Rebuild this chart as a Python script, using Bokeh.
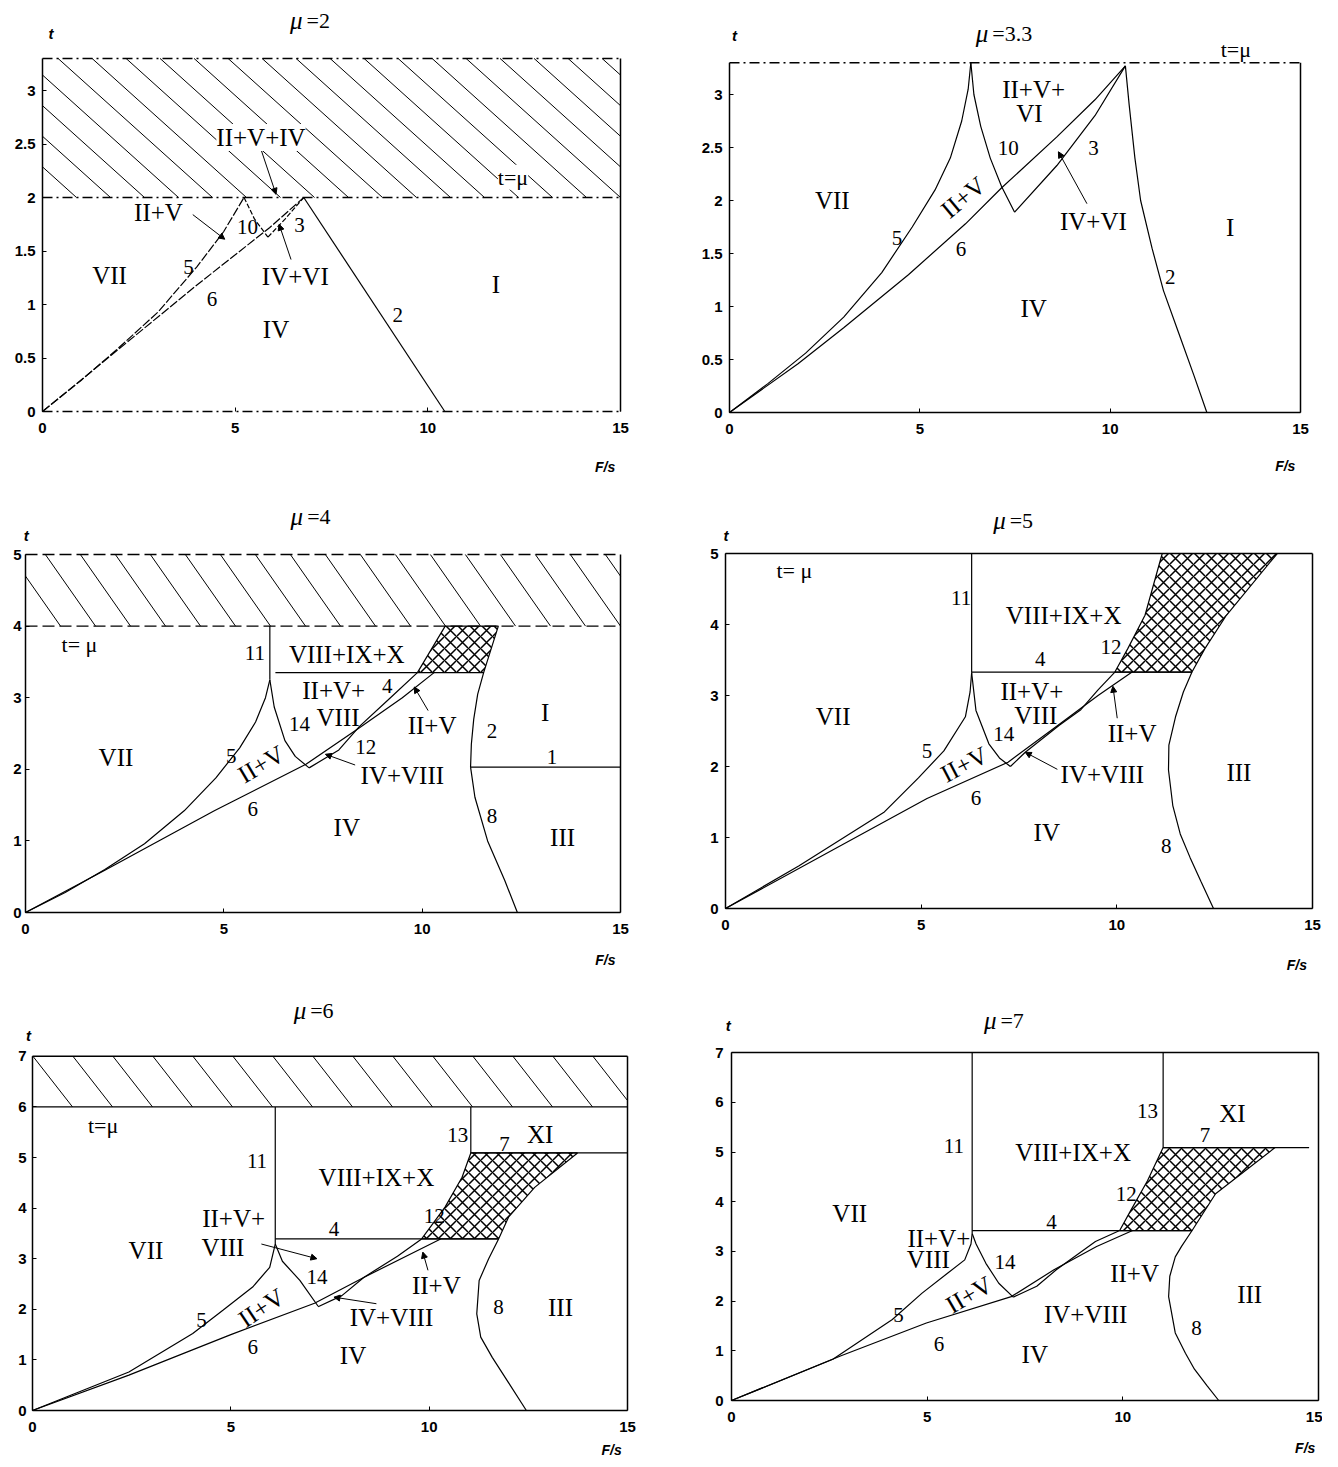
import math
from bokeh.plotting import figure
from bokeh.models import Range1d, Label, Arrow, NormalHead, FixedTicker, NumeralTickFormatter
from bokeh.layouts import row, column
from bokeh.embed import file_html
from bokeh.resources import INLINE

# ---------------- data ----------------
F_RANGE = (0, 15)
F_TICKS = [0, 5, 10, 15]
MU = [2, 3.3, 4, 5, 6, 7]
T_TOP = [3.3, 3.3, 5, 5, 7, 7]
T_TICKS_A = [0, 0.5, 1, 1.5, 2, 2.5, 3]
T_TICKS_B = [0, 1, 2, 3, 4, 5]
T_TICKS_C = [0, 1, 2, 3, 4, 5, 6, 7]
MU_TEXT = ["=2", "=3.3", "=4", "=5", "=6", "=7"]

# mu = 2
m2_c5_F = [0, 1.0, 1.9, 3.0, 4.0, 4.7, 5.23]
m2_c5_t = [0, 0.29, 0.57, 0.93, 1.35, 1.68, 2.0]
m2_c6_F = [0, 1.9, 4.0, 5.9, 6.78]
m2_c6_t = [0, 0.56, 1.18, 1.72, 2.0]
m2_c10_F = [5.23, 5.5, 5.85]
m2_c10_t = [2.0, 1.8, 1.63]
m2_c3_F = [5.85, 6.3, 6.78]
m2_c3_t = [1.63, 1.8, 2.0]
m2_c2_F = [6.78, 10.44]
m2_c2_t = [2.0, 0.0]

# mu = 3.3
m33_c5_F = [0, 1, 2, 3, 4, 4.8, 5.4, 5.8, 6.1, 6.27, 6.34]
m33_c5_t = [0, 0.27, 0.56, 0.9, 1.32, 1.75, 2.1, 2.4, 2.75, 3.05, 3.3]
m33_c10_F = [6.34, 6.42, 6.6, 6.85, 7.15, 7.49]
m33_c10_t = [3.3, 3.0, 2.7, 2.4, 2.13, 1.89]
m33_c6_F = [0, 1.8, 3.0, 4.7, 6.2, 7.15, 8.6, 9.6, 10.4]
m33_c6_t = [0, 0.46, 0.8, 1.3, 1.78, 2.12, 2.6, 2.95, 3.27]
m33_c3_F = [7.49, 8.6, 9.6, 10.4]
m33_c3_t = [1.89, 2.33, 2.8, 3.27]
m33_c2_F = [10.4, 10.5, 10.65, 10.8, 11.1, 11.4, 11.8, 12.2, 12.54]
m33_c2_t = [3.27, 2.9, 2.4, 2.0, 1.55, 1.15, 0.75, 0.35, 0.0]

# mu = 4
m4_c5_F = [0, 1, 2, 3, 4, 4.8, 5.4, 5.8, 6.05, 6.16]
m4_c5_t = [0, 0.28, 0.6, 0.96, 1.42, 1.88, 2.3, 2.66, 3.0, 3.25]
m4_c14_F = [6.16, 6.27, 6.54, 6.8, 7.15]
m4_c14_t = [3.25, 2.87, 2.4, 2.18, 2.02]
m4_c6_F = [0, 2, 4.76, 7.07, 8.42, 9.5, 10.3]
m4_c6_t = [0, 0.59, 1.42, 2.07, 2.58, 3.0, 3.35]
m4_c12_F = [7.15, 7.9, 8.42, 9.2, 9.88]
m4_c12_t = [2.02, 2.27, 2.6, 3.0, 3.35]
m4_c11_F = [6.16, 6.16]
m4_c11_t = [4.0, 3.25]
m4_c4_F = [6.3, 9.88]
m4_c4_t = [3.35, 3.35]
m4_x_F = [9.88, 10.58, 11.92, 11.55]
m4_x_t = [3.35, 4.0, 4.0, 3.35]
m4_c2_F = [11.55, 11.4, 11.3, 11.24, 11.22]
m4_c2_t = [3.35, 3.05, 2.7, 2.35, 2.03]
m4_c8_F = [11.22, 11.33, 11.65, 12.08, 12.4]
m4_c8_t = [2.03, 1.61, 1.0, 0.45, 0.0]
m4_c1_F = [11.22, 15]
m4_c1_t = [2.03, 2.03]

# mu = 5
m5_c5_F = [0, 1.87, 4.06, 4.93, 5.58, 6.13, 6.25, 6.29]
m5_c5_t = [0, 0.6, 1.36, 1.84, 2.22, 2.7, 3.05, 3.32]
m5_c14_F = [6.29, 6.4, 6.73, 7.0, 7.28]
m5_c14_t = [3.32, 2.79, 2.32, 2.12, 2.0]
m5_c6_F = [0, 2.96, 5.15, 7.22, 8.42, 9.52, 10.39]
m5_c6_t = [0, 0.89, 1.55, 2.06, 2.55, 3.0, 3.33]
m5_c12_F = [7.28, 7.66, 8.53, 9.08, 9.52, 9.95]
m5_c12_t = [2.0, 2.2, 2.58, 2.8, 3.08, 3.33]
m5_c11_F = [6.29, 6.29]
m5_c11_t = [5.0, 3.32]
m5_c4_F = [6.29, 11.92]
m5_c4_t = [3.33, 3.33]
m5_x_F = [9.95, 10.28, 10.72, 11.16, 14.1, 12.8, 12.25, 11.92]
m5_x_t = [3.33, 3.66, 4.13, 5.0, 5.0, 4.13, 3.66, 3.33]
m5_c8_F = [11.92, 11.7, 11.5, 11.33, 11.32, 11.43, 11.62, 11.87, 12.15, 12.47]
m5_c8_t = [3.33, 3.05, 2.7, 2.3, 1.95, 1.45, 1.05, 0.72, 0.38, 0.0]

# mu = 6
m6_c5_F = [0, 2.43, 4.04, 4.8, 5.55, 5.98, 6.12]
m6_c5_t = [0, 0.76, 1.52, 1.98, 2.44, 2.83, 3.29]
m6_c14_F = [6.12, 6.3, 6.74, 7.2]
m6_c14_t = [3.29, 2.95, 2.57, 2.06]
m6_c6_F = [0, 2.43, 5.0, 7.11, 8.35, 10.29]
m6_c6_t = [0, 0.7, 1.5, 2.12, 2.63, 3.39]
m6_c12_F = [7.2, 7.8, 8.35, 9.2, 9.81]
m6_c12_t = [2.05, 2.27, 2.63, 3.05, 3.39]
m6_c11_F = [6.12, 6.12]
m6_c11_t = [6.0, 3.29]
m6_c13_F = [11.05, 11.05]
m6_c13_t = [6.0, 5.09]
m6_c7_F = [11.05, 15]
m6_c7_t = [5.09, 5.09]
m6_c4_F = [6.12, 11.75]
m6_c4_t = [3.39, 3.39]
m6_x_F = [9.81, 10.4, 10.83, 11.05, 13.74, 12.66, 12.0, 11.75]
m6_x_t = [3.39, 4.02, 4.61, 5.09, 5.09, 4.41, 3.82, 3.39]
m6_c8_F = [11.75, 11.5, 11.26, 11.2, 11.3, 11.59, 12.0, 12.45]
m6_c8_t = [3.39, 3.0, 2.57, 1.91, 1.45, 1.05, 0.55, 0.0]

# mu = 7
m7_c5_F = [0, 2.59, 4.11, 4.87, 5.52, 5.96, 6.12, 6.15]
m7_c5_t = [0, 0.83, 1.63, 2.16, 2.56, 2.83, 3.15, 3.36]
m7_c14_F = [6.15, 6.25, 6.5, 6.83, 7.2]
m7_c14_t = [3.36, 3.15, 2.76, 2.36, 2.08]
m7_c6_F = [0, 2.8, 4.98, 7.15, 8.24, 9.33, 10.25]
m7_c6_t = [0, 0.9, 1.56, 2.09, 2.63, 3.1, 3.42]
m7_c12_F = [7.2, 7.8, 8.3, 9.3, 9.92]
m7_c12_t = [2.08, 2.3, 2.63, 3.2, 3.42]
m7_c11_F = [6.15, 6.15]
m7_c11_t = [7.0, 3.36]
m7_c13_F = [11.03, 11.03]
m7_c13_t = [7.0, 5.09]
m7_c7_F = [11.03, 14.76]
m7_c7_t = [5.09, 5.09]
m7_c4_F = [6.15, 11.77]
m7_c4_t = [3.42, 3.42]
m7_x_F = [9.92, 10.2, 10.63, 11.03, 13.89, 12.37, 11.77]
m7_x_t = [3.42, 3.82, 4.42, 5.09, 5.09, 4.16, 3.42]
m7_c8_F = [11.77, 11.5, 11.34, 11.2, 11.17, 11.34, 11.6, 11.83, 12.15, 12.45]
m7_c8_t = [3.42, 3.1, 2.89, 2.5, 2.09, 1.36, 0.95, 0.63, 0.3, 0.0]

# ---------------- layout / styling ----------------
DASHDOT = "10 4 2 4"
S = "solid"
specs = [
    dict(i=0, fig=(0, 0, 665, 480), cal=(42, 620, 411, 107), yticks=T_TICKS_A, ys=7,
         band=(34, 42), mu_dash=DASHDOT, frame_dash=(S, S, DASHDOT, DASHDOT),
         curves=[(m2_c5_F, m2_c5_t, "9 2"), (m2_c6_F, m2_c6_t, "9 2"), (m2_c10_F, m2_c10_t, "5 2"),
                 (m2_c3_F, m2_c3_t, "5 2"), (m2_c2_F, m2_c2_t, S)],
         cross=None,
         labels=[("VII", 1.74, 1.27, 0), ("5", 3.79, 1.35, 0), ("6", 4.4, 1.05, 0), ("IV", 6.06, 0.77, 0),
                 ("2", 9.22, 0.9, 0), ("I", 11.77, 1.19, 0), ("3", 6.67, 1.74, 0), ("10", 5.32, 1.72, 0),
                 ("II+V", 3.01, 1.86, 0), ("II+V+IV", 5.67, 2.56, 0), ("IV+VI", 6.56, 1.26, 0),
                 ("t=μ", 12.21, 2.19, 0)],
         white_bg=["II+V+IV", "t=μ"],
         arrows=[(3.9, 1.84, 4.73, 1.61), (5.67, 2.45, 6.06, 2.03), (6.45, 1.42, 6.14, 1.75)],
         title=(6.75, 3.65), tlab=(0.22, 3.53), fs=(14.6, -0.52)),
    dict(i=1, fig=(665, 0, 657, 480), cal=(729, 1300, 412, 106), yticks=T_TICKS_A, ys=7,
         band=None, mu_dash=None, frame_dash=(S, S, S, DASHDOT),
         curves=[(m33_c5_F, m33_c5_t, S), (m33_c6_F, m33_c6_t, S), (m33_c10_F, m33_c10_t, S),
                 (m33_c3_F, m33_c3_t, S), (m33_c2_F, m33_c2_t, S)],
         cross=None,
         labels=[("II+V+", 7.99, 3.05, 0), ("VI", 7.88, 2.82, 0), ("10", 7.32, 2.5, 0), ("3", 9.56, 2.5, 0),
                 ("VII", 2.7, 2.0, 0), ("II+V", 6.14, 2.03, 0.69), ("5", 4.4, 1.65, 0), ("6", 6.08, 1.54, 0),
                 ("IV+VI", 9.56, 1.8, 0), ("I", 13.15, 1.75, 0), ("2", 11.58, 1.28, 0), ("IV", 7.99, 0.98, 0),
                 ("t=μ", 13.3, 3.42, 0)],
         white_bg=[],
         arrows=[(9.39, 1.97, 8.64, 2.46)],
         title=(6.8, 3.58), tlab=(0.13, 3.56), fs=(14.6, -0.5)),
    dict(i=2, fig=(0, 480, 665, 500), cal=(25, 620, 912, 71.6), yticks=T_TICKS_B, ys=4,
         band=(35, 55), mu_dash="12 5", frame_dash=(S, S, S, "12 5"),
         curves=[(m4_c5_F, m4_c5_t, S), (m4_c14_F, m4_c14_t, S), (m4_c6_F, m4_c6_t, S),
                 (m4_c12_F, m4_c12_t, S), (m4_c11_F, m4_c11_t, S), (m4_c4_F, m4_c4_t, S),
                 (m4_c2_F, m4_c2_t, S), (m4_c8_F, m4_c8_t, S), (m4_c1_F, m4_c1_t, S)],
         cross=(m4_x_F, m4_x_t),
         labels=[("t= μ", 1.36, 3.75, 0), ("11", 5.78, 3.62, 0), ("VIII+IX+X", 8.1, 3.61, 0),
                 ("II+V+", 7.77, 3.1, 0), ("4", 9.12, 3.17, 0), ("14", 6.91, 2.63, 0), ("VIII", 7.88, 2.73, 0),
                 ("5", 5.19, 2.19, 0), ("II+V", 5.94, 2.07, 0.54), ("12", 8.58, 2.31, 0), ("II+V", 10.25, 2.61, 0),
                 ("IV+VIII", 9.5, 1.91, 0), ("VII", 2.28, 2.17, 0), ("6", 5.73, 1.45, 0), ("IV", 8.1, 1.19, 0),
                 ("2", 11.76, 2.54, 0), ("I", 13.1, 2.8, 0), ("1", 13.27, 2.17, 0), ("8", 11.76, 1.35, 0),
                 ("III", 13.54, 1.05, 0)],
         white_bg=[],
         arrows=[(8.31, 2.06, 7.56, 2.21), (10.15, 2.82, 9.8, 3.15)],
         title=(7.0, 5.53), tlab=(0.02, 5.27), fs=(14.62, -0.67)),
    dict(i=3, fig=(665, 480, 657, 500), cal=(725, 1312, 908, 71), yticks=T_TICKS_B, ys=7,
         band=None, mu_dash=None, frame_dash=(S, S, S, S),
         curves=[(m5_c5_F, m5_c5_t, S), (m5_c14_F, m5_c14_t, S), (m5_c6_F, m5_c6_t, S),
                 (m5_c12_F, m5_c12_t, S), (m5_c11_F, m5_c11_t, S), (m5_c4_F, m5_c4_t, S),
                 (m5_c8_F, m5_c8_t, S)],
         cross=(m5_x_F, m5_x_t),
         labels=[("t= μ", 1.76, 4.76, 0), ("11", 6.02, 4.37, 0), ("VIII+IX+X", 8.64, 4.13, 0),
                 ("12", 9.85, 3.68, 0), ("4", 8.04, 3.51, 0), ("II+V+", 7.83, 3.06, 0), ("VIII", 7.93, 2.72, 0),
                 ("14", 7.11, 2.46, 0), ("5", 5.15, 2.22, 0), ("II+V", 6.1, 2.03, 0.48), ("VII", 2.75, 2.7, 0),
                 ("II+V", 10.39, 2.46, 0), ("IV+VIII", 9.63, 1.89, 0), ("6", 6.4, 1.55, 0), ("IV", 8.21, 1.07, 0),
                 ("III", 13.12, 1.91, 0), ("8", 11.26, 0.88, 0)],
         white_bg=[],
         arrows=[(10.01, 2.68, 9.9, 3.13), (8.48, 1.96, 7.66, 2.2)],
         title=(7.16, 5.46), tlab=(0.01, 5.25), fs=(14.6, -0.8)),
    dict(i=4, fig=(0, 980, 665, 480), cal=(32, 627, 1410, 50.6), yticks=T_TICKS_C, ys=6,
         band=(40, 52), mu_dash=S, frame_dash=(S, S, S, S),
         curves=[(m6_c5_F, m6_c5_t, S), (m6_c14_F, m6_c14_t, S), (m6_c6_F, m6_c6_t, S),
                 (m6_c12_F, m6_c12_t, S), (m6_c11_F, m6_c11_t, S), (m6_c13_F, m6_c13_t, S),
                 (m6_c7_F, m6_c7_t, S), (m6_c4_F, m6_c4_t, S), (m6_c8_F, m6_c8_t, S)],
         cross=(m6_x_F, m6_x_t),
         labels=[("t=μ", 1.78, 5.63, 0), ("11", 5.66, 4.94, 0), ("VIII+IX+X", 8.67, 4.61, 0),
                 ("12", 10.13, 3.85, 0), ("4", 7.6, 3.59, 0), ("II+V+", 5.07, 3.79, 0), ("VIII", 4.8, 3.23, 0),
                 ("14", 7.17, 2.64, 0), ("VII", 2.86, 3.16, 0), ("5", 4.26, 1.78, 0), ("II+V", 5.77, 2.03, 0.59),
                 ("6", 5.55, 1.25, 0), ("IV", 8.08, 1.09, 0), ("IV+VIII", 9.05, 1.84, 0), ("II+V", 10.18, 2.47, 0),
                 ("8", 11.75, 2.04, 0), ("III", 13.31, 2.04, 0), ("13", 10.72, 5.45, 0), ("7", 11.9, 5.27, 0),
                 ("XI", 12.8, 5.45, 0)],
         white_bg=[],
         arrows=[(5.77, 3.29, 7.17, 3.0), (8.67, 2.11, 7.6, 2.24), (9.97, 2.77, 9.84, 3.13)],
         title=(6.9, 7.9), tlab=(-0.1, 7.41), fs=(14.6, -0.78)),
    dict(i=5, fig=(665, 980, 657, 480), cal=(731, 1318, 1400, 49.7), yticks=T_TICKS_C, ys=8,
         band=None, mu_dash=None, frame_dash=(S, S, S, S),
         curves=[(m7_c5_F, m7_c5_t, S), (m7_c14_F, m7_c14_t, S), (m7_c6_F, m7_c6_t, S),
                 (m7_c12_F, m7_c12_t, S), (m7_c11_F, m7_c11_t, S), (m7_c13_F, m7_c13_t, S),
                 (m7_c7_F, m7_c7_t, S), (m7_c4_F, m7_c4_t, S), (m7_c8_F, m7_c8_t, S)],
         cross=(m7_x_F, m7_x_t),
         labels=[("11", 5.68, 5.12, 0), ("VIII+IX+X", 8.73, 4.99, 0), ("12", 10.09, 4.16, 0), ("4", 8.18, 3.59, 0),
                 ("VII", 3.02, 3.76, 0), ("II+V+", 5.3, 3.26, 0), ("VIII", 5.03, 2.83, 0), ("14", 6.99, 2.79, 0),
                 ("II+V", 6.07, 2.13, 0.53), ("5", 4.27, 1.73, 0), ("6", 5.3, 1.13, 0), ("IV", 7.75, 0.93, 0),
                 ("IV+VIII", 9.05, 1.73, 0), ("II+V", 10.3, 2.56, 0), ("8", 11.88, 1.46, 0), ("III", 13.24, 2.13, 0),
                 ("XI", 12.8, 5.78, 0), ("13", 10.63, 5.82, 0), ("7", 12.1, 5.35, 0)],
         white_bg=[],
         arrows=[],
         title=(6.77, 7.65), tlab=(-0.08, 7.55), fs=(14.66, -0.95)),
]

SERIF = "Liberation Serif"
SANS = "Liberation Sans"


def add_text(p, text, x, y, size, font=SERIF, style="normal", align="center", angle=0.0, x_offset=0, bg=None):
    lab = Label(x=x, y=y, text=text, text_font=font, text_font_size=size, text_font_style=style,
                text_align=align, text_baseline="middle", angle=angle, x_offset=x_offset,
                text_color="black")
    if bg:
        lab.background_fill_color = bg
    p.add_layout(lab)


def clip_segment(xa, ya, xb, yb, lo, hi):
    if xb < lo or xa > hi:
        return None
    if xa < lo:
        ya = ya + (yb - ya) * (lo - xa) / (xb - xa)
        xa = lo
    if xb > hi:
        yb = ya + (yb - ya) * (hi - xa) / (xb - xa)
        xb = hi
    return [xa, xb], [ya, yb]


def band_hatch(mu, ttop, sx, sy, spacing_px, angle_deg):
    run = (ttop - mu) * sy / math.tan(math.radians(angle_deg)) / sx
    step = spacing_px / sx
    xs, ys = [], []
    x0 = F_RANGE[0] - run
    while x0 < F_RANGE[1]:
        seg = clip_segment(x0, ttop, x0 + run, mu, F_RANGE[0], F_RANGE[1])
        if seg:
            xs.append(seg[0])
            ys.append(seg[1])
        x0 += step
    return xs, ys


def build(s):
    i = s["i"]
    mu, ttop = MU[i], T_TOP[i]
    gl, gt, gw, gh = s["fig"]
    f0, f15, t0, tu = s["cal"]
    sx = (f15 - f0) / (F_RANGE[1] - F_RANGE[0])
    x_lo = (gl - f0) / sx
    x_hi = (gl + gw - f0) / sx
    y_hi = (t0 - gt) / tu
    y_lo = (t0 - (gt + gh)) / tu
    p = figure(width=gw, height=gh, x_range=Range1d(x_lo, x_hi), y_range=Range1d(y_lo, y_hi),
               output_backend="svg", toolbar_location=None,
               min_border_left=0, min_border_right=0, min_border_top=0, min_border_bottom=0)
    p.xgrid.visible = False
    p.ygrid.visible = False
    p.outline_line_color = None
    p.background_fill_color = "white"
    p.border_fill_color = "white"
    p.xaxis.ticker = FixedTicker(ticks=F_TICKS)
    p.yaxis.ticker = FixedTicker(ticks=s["yticks"])
    p.yaxis.formatter = NumeralTickFormatter(format="0.[0]")
    p.xaxis.fixed_location = 0
    p.yaxis.fixed_location = 0
    for ax in (p.xaxis[0], p.yaxis[0]):
        ax.axis_line_color = None
        ax.major_tick_in = 4
        ax.major_tick_out = 0
        ax.major_tick_line_color = "black"
        ax.minor_tick_line_color = None
        ax.major_label_text_font = SANS
        ax.major_label_text_font_size = "15px"
        ax.major_label_text_font_style = "bold"
        ax.major_label_text_color = "black"
    p.xaxis.major_label_standoff = 11
    p.yaxis.major_label_standoff = s["ys"]

    # hatched band above t = mu
    if s["band"]:
        hx, hy = band_hatch(mu, ttop, sx, tu, s["band"][0], s["band"][1])
        p.multi_line(hx, hy, line_color="black", line_width=1.0)
    if s["mu_dash"] and mu < ttop:
        p.line([F_RANGE[0], F_RANGE[1]], [mu, mu], line_color="black", line_width=1.3,
               line_dash=s["mu_dash"])

    if s["cross"]:
        cf, ct = s["cross"]
        p.patch(cf, ct, fill_alpha=0, line_color="black", line_width=1.2,
                hatch_pattern="x", hatch_scale=12, hatch_weight=1.5, hatch_color="black")

    for cf, ct, dash in s["curves"]:
        p.line(cf, ct, line_color="black", line_width=1.2, line_dash=dash)

    # frame: left, right, bottom, top
    dl, dr, db, dt = s["frame_dash"]
    p.line([F_RANGE[0], F_RANGE[0]], [0, ttop], line_color="black", line_width=1.5, line_dash=dl)
    p.line([F_RANGE[1], F_RANGE[1]], [0, ttop], line_color="black", line_width=1.5, line_dash=dr)
    p.line([F_RANGE[0], F_RANGE[1]], [0, 0], line_color="black", line_width=1.5, line_dash=db)
    p.line([F_RANGE[0], F_RANGE[1]], [ttop, ttop], line_color="black", line_width=1.5, line_dash=dt)

    for (x0, y0, x1, y1) in s["arrows"]:
        p.add_layout(Arrow(end=NormalHead(size=6, line_color="black", fill_color="black", line_width=1),
                           x_start=x0, y_start=y0, x_end=x1, y_end=y1,
                           line_color="black", line_width=1))

    for text, x, y, ang in s["labels"]:
        size = "21px" if text.isdigit() else "25px"
        if text.startswith("t="):
            size = "22px"
        bg = "white" if text in s["white_bg"] else None
        add_text(p, text, x, y, size, angle=ang, bg=bg)

    tx, ty = s["title"]
    add_text(p, "μ", tx, ty, "25px", style="italic", align="right")
    add_text(p, MU_TEXT[i], tx, ty, "22px", align="left", x_offset=4)
    lx, ly = s["tlab"]
    add_text(p, "t", lx, ly, "15px", font=SANS, style="bold italic")
    fx, fy = s["fs"]
    add_text(p, "F/s", fx, fy, "14px", font=SANS, style="bold italic")
    return p


figs = [build(s) for s in specs]
layout = column(row(figs[0], figs[1]), row(figs[2], figs[3]), row(figs[4], figs[5]))
open("out.html", "w").write(file_html(layout, INLINE))
